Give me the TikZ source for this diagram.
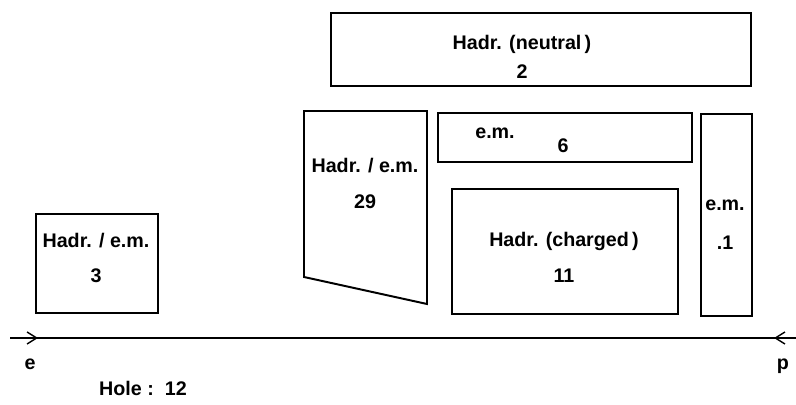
\documentclass[tikz,border=0pt]{standalone}
\usepackage{fontspec}
\setmainfont{Liberation Sans}
\usetikzlibrary{arrows.meta, positioning}
\tikzset{
  every picture/.style={font=\bfseries, line width=1.4pt},
  counter/.style={draw, rectangle, anchor=north west, inner sep=0pt},
  lbl/.style={font=\fontsize{14}{16}\selectfont\bfseries, inner sep=0pt},
  beam/.style={line width=1pt},
  barb/.style={-{Straight Barb[length=2.4mm, width=3mm, line width=1pt]}, beam},
}
\begin{document}
\begin{tikzpicture}[x=0.025cm, y=-0.025cm]
  \useasboundingbox (0,0) rectangle (796,405);
  % counters around the beam pipe (1 unit = 1 px of the plot)
  \node[counter, minimum width=420*0.025cm, minimum height=73*0.025cm] (neut) at (330,12) {};
  \node[counter, minimum width=254*0.025cm, minimum height=49*0.025cm] (emsix) at (437,112) {};
  \node[counter, minimum width=226*0.025cm, minimum height=125*0.025cm] (charg) at (451,188) {};
  \node[counter, minimum width=51*0.025cm, minimum height=202*0.025cm] (emone) at (700,113) {};
  \node[counter, minimum width=122*0.025cm, minimum height=99*0.025cm] (hemthree) at (35,213) {};
  % the slanted one
  \coordinate (tzA) at (304,111);
  \coordinate (tzB) at (427,111);
  \coordinate (tzC) at (427,304);
  \coordinate (tzD) at (304,277);
  \draw[line join=miter] (tzA) -- (tzB) -- (tzC) -- (tzD) -- cycle;
  % texts
  \node[lbl] (tneut) at (522,44) {Hadr. (neutral\,)};
  \node[lbl] (nneut) at (522,72) {2};
  \node[lbl] (tsix) at (495,133) {e.m.};
  \node[lbl] (nsix) at (563,146) {6};
  \node[lbl] (tcharg) at (564,241) {Hadr. (charged\,)};
  \node[lbl] (ncharg) at (564,276) {11};
  \node[lbl] (tone) at (725,205) {e.m.};
  \node[lbl] (none) at (725,243) {.1};
  \node[lbl] (tthree) at (96,241) {Hadr. / e.m.};
  \node[lbl] (nthree) at (96,276) {3};
  \node[lbl] (ttz) at (365,166) {Hadr. / e.m.};
  \node[lbl] (ntz) at (365,202) {29};
  % beam axis
  \coordinate (axL) at (10,338);
  \coordinate (tipL) at (38,338);
  \coordinate (axR) at (796,338);
  \coordinate (tipR) at (774,338);
  \draw[beam] (axL) -- (axR);
  \draw[barb] (axL) -- (tipL);
  \draw[barb] (axR) -- (tipR);
  \node[lbl] (elec) at (30,364) {e};
  \node[lbl] (prot) at (783,366) {p};
  \node[lbl] (hole) at (143,388) {Hole :\ \ 12};
\end{tikzpicture}
\end{document}
